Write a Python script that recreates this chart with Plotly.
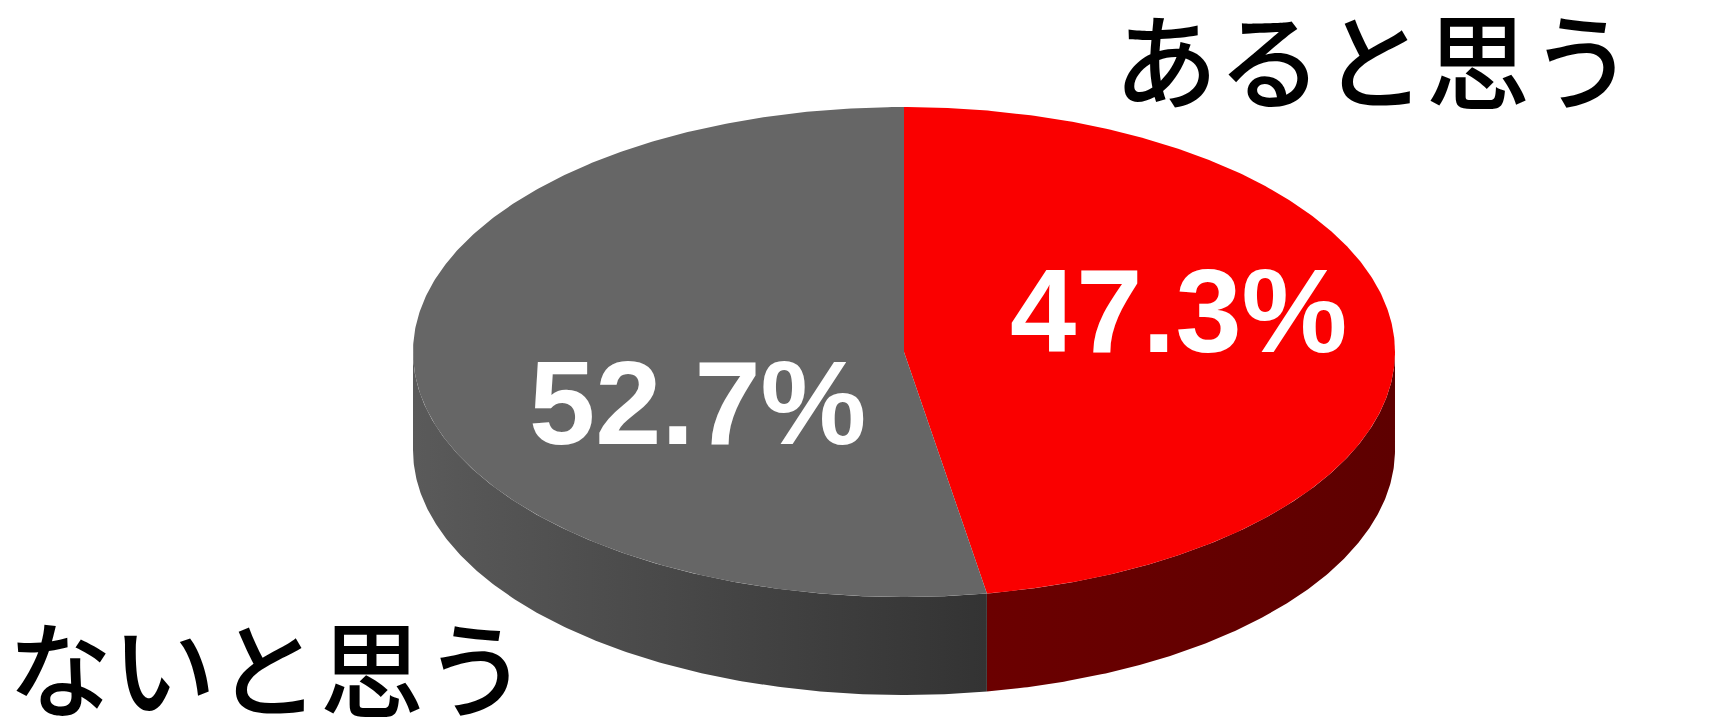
import numpy as np
import plotly.graph_objects as go

# ---- data ----
labels = ["あると思う", "ないと思う"]
values = [47.3, 52.7]
top_colors = ["#fa0000", "#666666"]
side_scales = [
    [[0, "#6b0000"], [1, "#5e0000"]],
    [[0, "#5a5a5a"], [1, "#333333"]],
]
label_text = [f"{v}%" for v in values]

# ---- geometry (pixel space) ----
W, H = 1712, 724
CX, CY = 904, 352
RX, RY = 491, 245
DEPTH = 98

def pt(theta_deg, dy=0.0):
    t = np.radians(theta_deg)
    return CX + RX * np.sin(t), CY - RY * np.cos(t) + dy

fig = go.Figure()

total = sum(values)
starts, ends = [], []
a = 0.0
for v in values:
    starts.append(a)
    a += v / total * 360.0
    ends.append(a)

# sides (visible front half: 90..270 degrees clockwise from top)
for i in range(len(values)):
    lo = max(starts[i], 90.0)
    hi = min(ends[i], 270.0)
    if hi <= lo:
        continue
    th = np.linspace(lo, hi, 200)
    xt, yt = pt(th)
    xb, yb = pt(th[::-1], DEPTH)
    xs = np.concatenate([xt, xb, xt[:1]])
    ys = np.concatenate([yt, yb, yt[:1]])
    fig.add_trace(go.Scatter(
        x=xs, y=ys, mode="lines", fill="toself",
        line=dict(width=0), hoverinfo="skip", showlegend=False,
        fillgradient=dict(type="horizontal", colorscale=side_scales[i]),
    ))

# top faces
for i in range(len(values)):
    th = np.linspace(starts[i], ends[i], 400)
    xa, ya = pt(th)
    xs = np.concatenate([[CX], xa, [CX]])
    ys = np.concatenate([[CY], ya, [CY]])
    fig.add_trace(go.Scatter(
        x=xs, y=ys, mode="lines", fill="toself", fillcolor=top_colors[i],
        line=dict(width=0), hoverinfo="skip", showlegend=False,
        name=labels[i],
    ))

# percentage labels
pct_pos = [(1178, 310), (697, 402)]
for (x, y), t in zip(pct_pos, label_text):
    fig.add_annotation(x=x, y=y, xref="x", yref="y", text=f"<b>{t}</b>",
                       showarrow=False, xanchor="center", yanchor="middle",
                       font=dict(family="Liberation Sans, Arial", size=119, color="white"))

# category labels
cat_pos = [(1374, 56), (268, 664)]
for (x, y), t in zip(cat_pos, labels):
    fig.add_annotation(x=x, y=y, xref="x", yref="y", text=t,
                       showarrow=False, xanchor="center", yanchor="middle",
                       font=dict(family="Noto Sans CJK JP", size=104, color="black",
                                 weight=500))

fig.update_layout(
    width=W, height=H,
    margin=dict(l=0, r=0, t=0, b=0),
    paper_bgcolor="white", plot_bgcolor="white",
    xaxis=dict(range=[0, W], visible=False, fixedrange=True),
    yaxis=dict(range=[H, 0], visible=False, fixedrange=True),
    showlegend=False,
)

fig.write_html("out.html", config={"displayModeBar": False})
